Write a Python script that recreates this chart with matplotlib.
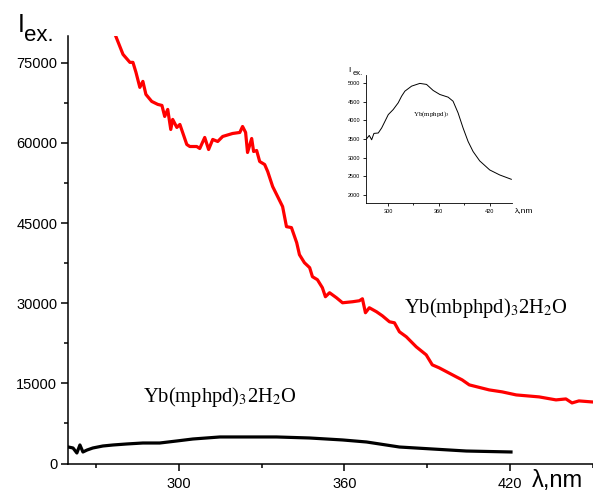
import numpy as np
import matplotlib
matplotlib.use("Agg")
import matplotlib.pyplot as plt
from matplotlib.ticker import MultipleLocator

plt.rcParams['font.family'] = ['Liberation Sans', 'DejaVu Sans']
plt.rcParams['mathtext.fontset'] = 'stix'

# Yb(mbphpd)3 2H2O excitation spectrum (red)
red_wl = [277.2, 279.8, 282.3, 283.4, 284.5, 285.9, 287.0, 288.1, 290.2, 292.4,
          293.9, 294.9, 296.0, 297.1, 297.8, 299.3, 300.4, 302.9, 304.0, 306.5,
          307.6, 309.4, 310.8, 312.3, 314.1, 315.9, 319.5, 322.1, 323.1, 324.2,
          324.9, 326.4, 327.1, 328.2, 329.3, 331.1, 332.2, 334.0, 335.8, 337.6,
          339.0, 340.8, 342.7, 343.7, 345.5, 347.4, 348.4, 350.2, 352.0, 353.1,
          354.6, 357.1, 359.3, 362.9, 365.4, 366.5, 367.6, 369.0, 371.6, 373.7,
          376.3, 378.1, 379.9, 382.4, 386.0, 389.6, 391.8, 394.3, 400.5, 402.6,
          405.2, 412.4, 417.1, 422.2, 430.5, 436.6, 440.2, 442.4, 444.9, 449.6]
red_int = [79970, 76590, 75090, 75090, 73220, 70410, 71530, 69090, 67780, 67220,
           67030, 64970, 66280, 62530, 64410, 62910, 63470, 59720, 59340, 59340,
           58970, 61030, 58780, 60660, 60280, 61220, 61780, 61970, 63090, 61970,
           58220, 60840, 58410, 58590, 56530, 55970, 54660, 51840, 49970, 48090,
           44340, 44160, 41340, 39090, 37590, 36660, 34970, 34410, 32910, 31220,
           31970, 31030, 30090, 30280, 30470, 30840, 28220, 29160, 28410, 27660,
           26530, 26340, 24660, 23720, 21840, 20340, 18470, 17910, 16220, 15660,
           14720, 13780, 13410, 12840, 12470, 11910, 12090, 11340, 11720, 11530]

# Yb(mphpd)3 2H2O excitation spectrum (black)
blk_wl = [260.0, 261.7, 263.1, 264.2, 265.3, 266.8, 268.9, 272.5, 276.2, 281.2,
          287.0, 293.1, 299.3, 305.1, 314.9, 323.2, 329.3, 335.4, 347.3, 359.3,
          368.0, 379.9, 391.8, 404.1, 420.3]
blk_int = [3090, 2910, 1970, 3470, 2160, 2530, 2910, 3280, 3470, 3660,
           3840, 3840, 4220, 4590, 4970, 4970, 4970, 4970, 4780, 4410,
           4030, 3090, 2720, 2340, 2160]

# inset: Yb(mphpd)3 zoomed
ins_wl = [274.9, 278.0, 280.8, 283.5, 288.6, 292.6, 296.5, 300.4, 306.2, 312.1,
          316.1, 320.0, 327.9, 337.6, 345.5, 353.3, 361.2, 371.0, 376.8, 382.7,
          388.6, 394.5, 400.4, 408.2, 420.0, 431.8, 445.5]
ins_int = [3505, 3594, 3478, 3648, 3659, 3793, 3971, 4150, 4285, 4465,
           4642, 4777, 4911, 4984, 4957, 4796, 4688, 4616, 4508, 4196,
           3793, 3433, 3164, 2914, 2672, 2538, 2422]

fig = plt.figure(figsize=(5.93, 4.95), dpi=100)
ax = fig.add_axes([0.1152, 0.0636, 0.8848, 0.8634])

ax.plot(red_wl, red_int, color='#ff0000', lw=2.3)
ax.plot(blk_wl, blk_int, color='black', lw=2.3)

ax.set_xlim(260, 450)
ax.set_ylim(0, 80000)
ax.spines['top'].set_visible(False)
ax.spines['right'].set_visible(False)
for s in ('left', 'bottom'):
    ax.spines[s].set_linewidth(1.1)
ax.xaxis.set_minor_locator(MultipleLocator(30))
ax.yaxis.set_major_locator(MultipleLocator(15000))
ax.yaxis.set_minor_locator(MultipleLocator(7500))
ax.set_xticks([300, 360, 420])
ax.tick_params(which='major', length=5, width=1.1, labelsize=10.5, pad=3)
ax.tick_params(which='minor', length=3, width=1.1)
ax.tick_params(axis='x', which='major', pad=5)

fig.text(0.030, 0.935, 'I', fontsize=18, ha='left', va='baseline')
fig.text(0.040, 0.917, 'ex.', fontsize=16, ha='left', va='baseline')
fig.text(0.897, 0.017, 'λ,nm', fontsize=17, ha='left', va='baseline')

ax.text(381.7, 28220, 'Yb(mbphpd)$_3$2H$_2$O', fontsize=14.8,
        family='Liberation Serif', ha='left', va='baseline')
ax.text(287.0, 11530, 'Yb(mphpd)$_3$2H$_2$O', fontsize=14.8,
        family='Liberation Serif', ha='left', va='baseline')

# inset
ai = fig.add_axes([0.617, 0.590, 0.246, 0.2586])
ai.plot(ins_wl, ins_int, color='black', lw=0.7)
ai.set_xlim(274, 446)
ai.set_ylim(1790, 5210)
ai.spines['top'].set_visible(False)
ai.spines['right'].set_visible(False)
for s in ('left', 'bottom'):
    ai.spines[s].set_linewidth(0.6)
ai.set_xticks([300, 360, 420])
ai.xaxis.set_minor_locator(MultipleLocator(30))
ai.yaxis.set_major_locator(MultipleLocator(500))
ai.tick_params(which='major', length=2, width=0.6, labelsize=4, pad=2)
ai.tick_params(which='minor', length=1.5, width=0.6)
ai.text(0.32, 0.68, 'Yb(mphpd)$_3$', transform=ai.transAxes, fontsize=5,
        family='Liberation Serif')
fig.text(0.588, 0.855, 'I', fontsize=6)
fig.text(0.595, 0.849, 'ex.', fontsize=5.5)
fig.text(0.868, 0.572, 'λ,nm', fontsize=6)

fig.savefig('out.png', dpi=100)
